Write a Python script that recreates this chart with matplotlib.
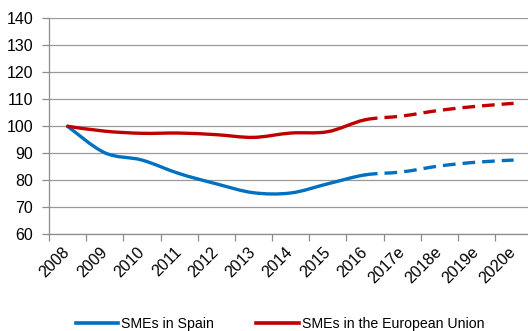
import matplotlib
matplotlib.use("Agg")
import matplotlib.pyplot as plt
from matplotlib.path import Path
from matplotlib.patches import PathPatch
from matplotlib.lines import Line2D

plt.rcParams['font.family'] = ['Liberation Sans', 'DejaVu Sans']

annees = ['2008', '2009', '2010', '2011', '2012', '2013', '2014',
          '2015', '2016', '2017e', '2018e', '2019e', '2020e']
pme_espagne = [100, 90.2, 87.5, 82.5, 78.7, 75.4, 75.3, 78.7, 82.0, 83.1, 85.3, 86.7, 87.5]
pme_ue = [100, 98.2, 97.4, 97.5, 96.9, 95.9, 97.5, 98.0, 102.4, 103.8, 105.9, 107.4, 108.5]
idx_prevision = 8  # les valeurs après 2016 sont des estimations

BLEU = '#0070C0'
ROUGE = '#C00000'


def courbe_lissee(ax, x, y, i0, i1, couleur, style, bout):
    """Courbe de Bézier (type Catmull-Rom) entre les points i0 et i1."""
    n = len(x)
    pts = list(zip(x, y))
    verts = [pts[i0]]
    codes = [Path.MOVETO]
    for i in range(i0, i1):
        p_prev = pts[max(i - 1, 0)]
        p0 = pts[i]
        p1 = pts[i + 1]
        p_next = pts[min(i + 2, n - 1)]
        c1 = (p0[0] + (p1[0] - p_prev[0]) / 6, p0[1] + (p1[1] - p_prev[1]) / 6)
        c2 = (p1[0] - (p_next[0] - p0[0]) / 6, p1[1] - (p_next[1] - p0[1]) / 6)
        verts += [c1, c2, p1]
        codes += [Path.CURVE4] * 3
    patch = PathPatch(Path(verts, codes), facecolor='none', edgecolor=couleur,
                      linewidth=2.4, linestyle=style, capstyle=bout, zorder=3)
    ax.add_patch(patch)


fig = plt.figure(figsize=(5.28, 3.31), dpi=100)
ax = fig.add_axes([49 / 528, 1 - 234.3 / 331, (532.2 - 49) / 528, (234.3 - 18.3) / 331])

x = list(range(len(annees)))
tirets = (0, (3.8, 2.1))
for serie, couleur in [(pme_espagne, BLEU), (pme_ue, ROUGE)]:
    courbe_lissee(ax, x, serie, 0, idx_prevision, couleur, '-', 'round')
    courbe_lissee(ax, x, serie, idx_prevision, len(x) - 1, couleur, tirets, 'butt')

ax.set_xlim(-0.5, len(annees) - 0.5)
ax.set_ylim(60, 140)
ax.set_yticks(range(60, 141, 10))
ax.yaxis.grid(True, color='#9a9a9a', linewidth=0.9)
ax.set_axisbelow(True)

ax.set_xticks(x)
ax.set_xticklabels(annees, rotation=45, ha='right', va='center', rotation_mode='anchor')
ax.set_xticks([i - 0.5 for i in range(len(annees) + 1)], minor=True)
ax.tick_params(axis='x', which='major', length=0, pad=11, labelsize=11.5)
ax.tick_params(axis='x', which='minor', length=5, color='#8c8c8c', width=0.9)
ax.tick_params(axis='y', length=5, color='#8c8c8c', width=0.9, pad=6.5, labelsize=11.5)

for cote in ['top', 'right']:
    ax.spines[cote].set_visible(False)
for cote in ['left', 'bottom']:
    ax.spines[cote].set_color('#8c8c8c')
    ax.spines[cote].set_linewidth(0.9)

poignees = [Line2D([], [], color=BLEU, linewidth=2.6),
            Line2D([], [], color=ROUGE, linewidth=2.6)]
fig.legend(poignees, ['SMEs in Spain', 'SMEs in the European Union'],
           loc='center', bbox_to_anchor=(280 / 528, 1 - 324 / 331), ncol=2,
           frameon=False, fontsize=10.2, handlelength=3.0, handletextpad=0.2,
           columnspacing=3.0)

fig.savefig('out.png', dpi=100)
